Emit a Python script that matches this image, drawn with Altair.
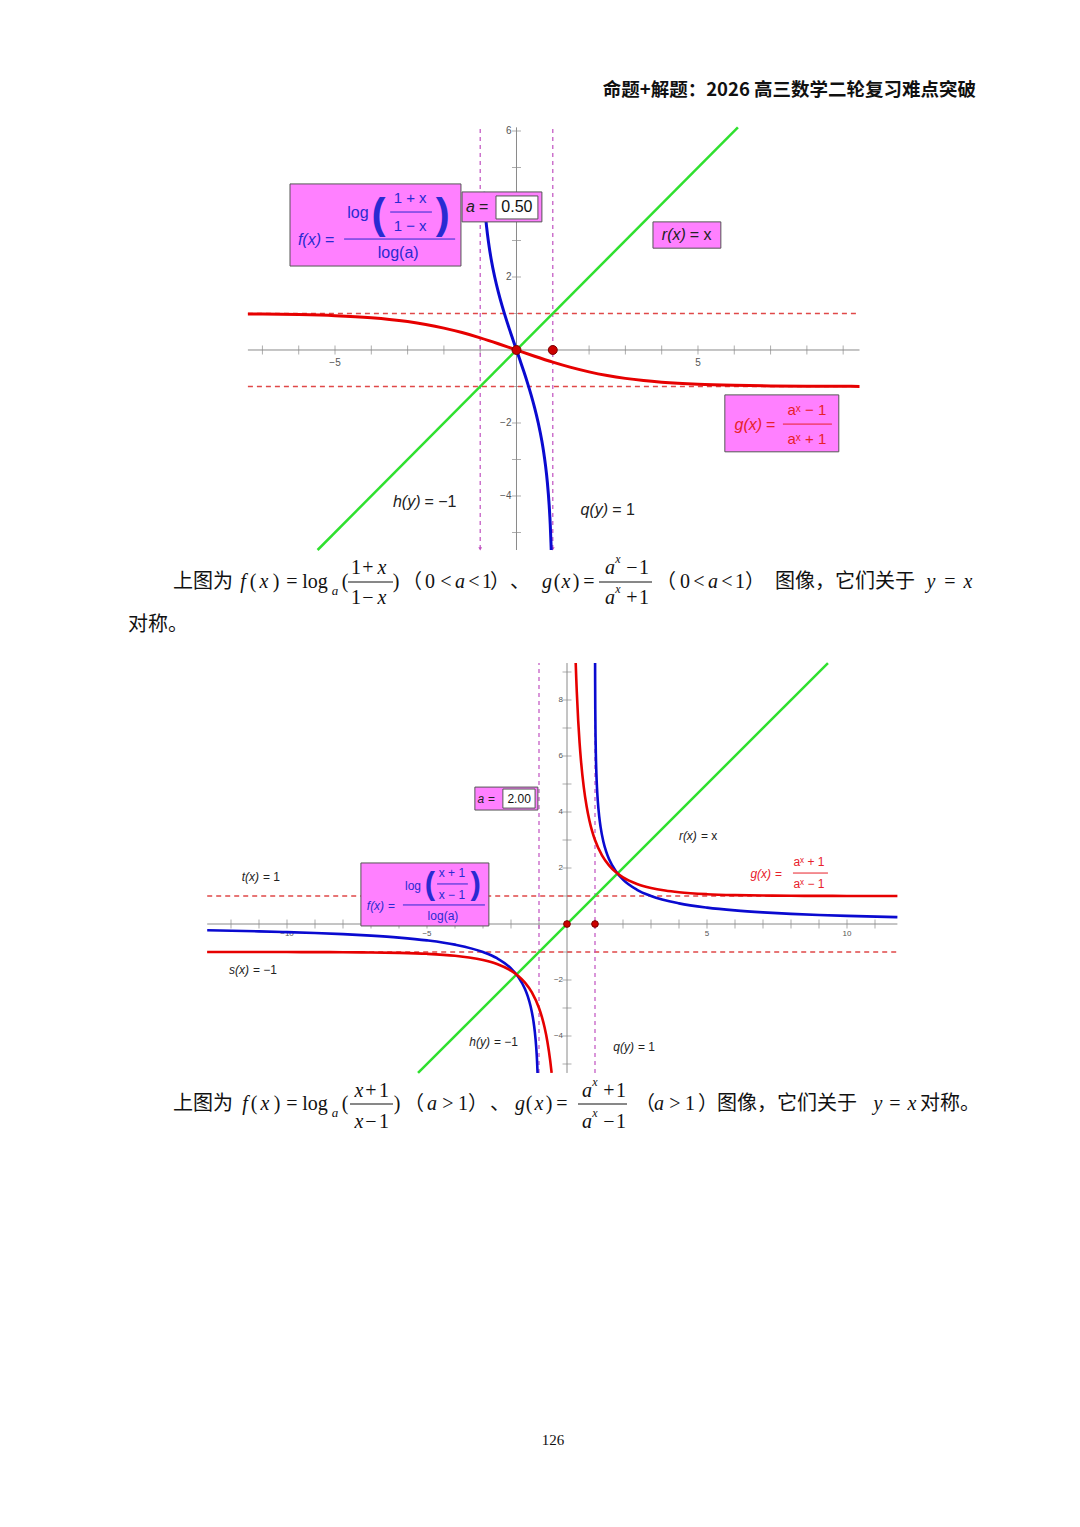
import altair as alt
import pandas as pd

# ---------------- values ----------------
# upper panel (a = 0.50): f(x) = log_a((1+x)/(1-x)) (blue), g(x) = (a^x-1)/(a^x+1) (red)
top_f_x = [-0.905, -0.9, -0.85, -0.8, -0.75, -0.7, -0.6, -0.5, -0.4, -0.3, -0.2, -0.1, 0.0,
           0.1, 0.2, 0.3, 0.4, 0.5, 0.6, 0.7, 0.75, 0.8, 0.85, 0.9, 0.93, 0.95, 0.9565]
top_f_y = [4.33, 4.248, 3.624, 3.170, 2.807, 2.503, 2.000, 1.585, 1.222, 0.893, 0.585, 0.290, 0.0,
           -0.290, -0.585, -0.893, -1.222, -1.585, -2.000, -2.503, -2.807, -3.170, -3.624, -4.248, -4.785, -5.285, -5.48]
top_g_x = [-7.4, -7, -6, -5, -4, -3.5, -3, -2.5, -2, -1.5, -1, -0.5, 0,
           0.5, 1, 1.5, 2, 2.5, 3, 3.5, 4, 5, 6, 7, 8, 9, 9.45]
top_g_y = [0.988, 0.9845, 0.9692, 0.9394, 0.8824, 0.8376, 0.7778, 0.6996, 0.6, 0.4776, 0.3333, 0.1716, 0.0,
           -0.1716, -0.3333, -0.4776, -0.6, -0.6996, -0.7778, -0.8376, -0.8824, -0.9394, -0.9692, -0.9845,
           -0.9922, -0.9961, -0.9972]

# lower panel (a = 2.00): f(x) = log_a((x+1)/(x-1)) (blue), g(x) = (a^x+1)/(a^x-1) (red)
bot_g_x_right = [0.311, 0.33, 0.35, 0.4, 0.45, 0.5, 0.6, 0.7, 0.8, 0.9, 1, 1.25, 1.5, 1.75, 2, 2.5, 3, 3.5, 4,
                 5, 6, 7, 8, 9, 10, 11.8]
bot_g_y_right = [9.32, 8.782, 8.284, 7.260, 6.464, 5.828, 4.878, 4.203, 3.699, 3.309, 3.000, 2.451, 2.094, 1.846,
                 1.667, 1.430, 1.286, 1.194, 1.133, 1.065, 1.032, 1.016, 1.008, 1.004, 1.002, 1.0006]
bot_g_x_left = [-12.85, -11, -10, -9, -8, -7, -6, -5, -4, -3.5, -3, -2.5, -2, -1.75, -1.5, -1.25, -1, -0.9, -0.8,
                -0.7, -0.6, -0.549]
bot_g_y_left = [-1.0001, -1.001, -1.002, -1.004, -1.008, -1.016, -1.032, -1.065, -1.133, -1.194, -1.286, -1.430,
                -1.667, -1.846, -2.094, -2.451, -3.000, -3.309, -3.699, -4.203, -4.878, -5.32]
bot_f_x_right = [1.0031, 1.005, 1.01, 1.02, 1.03, 1.05, 1.07, 1.1, 1.15, 1.2, 1.3, 1.4, 1.5, 1.75, 2, 2.5, 3, 4, 5,
                 6, 7, 8, 9, 10, 11.8]
bot_f_y_right = [9.32, 8.647, 7.651, 6.658, 6.080, 5.358, 4.886, 4.392, 3.841, 3.459, 2.939, 2.585, 2.322, 1.874,
                 1.585, 1.222, 1.000, 0.737, 0.585, 0.485, 0.415, 0.363, 0.322, 0.290, 0.245]
bot_f_x_left = [-12.85, -11, -10, -9, -8, -7, -6, -5, -4, -3, -2.5, -2, -1.75, -1.5, -1.4, -1.3, -1.2, -1.15, -1.1,
                -1.07, -1.0513]
bot_f_y_left = [-0.225, -0.263, -0.290, -0.322, -0.363, -0.415, -0.485, -0.585, -0.737, -1.000, -1.222, -1.585,
                -1.874, -2.322, -2.585, -2.939, -3.459, -3.841, -4.392, -4.886, -5.32]

asymptote_x = [-1, 1]          # h(y) = -1, q(y) = 1
asymptote_y = [-1, 1]          # s(x) = -1, t(x) = 1
marked_x = [0, 1]
marked_y = [0, 0]

top_xticks = [-7, -6, -5, -4, -3, -2, -1, 1, 2, 3, 4, 5, 6, 7, 8, 9]
top_yticks = [-5, -4, -3, -2, -1, 1, 2, 3, 4, 5, 6]
top_xlabels = [-5, 5]
top_ylabels = [6, 2, -2, -4]
bot_xticks = [-12, -11, -10, -9, -8, -7, -6, -5, -4, -3, -2, -1, 1, 2, 3, 4, 5, 6, 7, 8, 9, 10, 11]
bot_yticks = [-5, -4, -3, -2, -1, 1, 2, 3, 4, 5, 6, 7, 8, 9]
bot_xlabels = [-10, -5, 5, 10]
bot_ylabels = [8, 6, 4, 2, -2, -4]

# ---------------- styles ----------------
SANS = "Liberation Sans"
SERIF = "Liberation Serif"
CJK = "Noto Sans CJK SC"
BLUE = "#0a0ad0"
BLUE_T = "#2a2ad2"
RED = "#e60000"
RED_T = "#e8202a"
GREEN = "#2fe02f"
PINK = "#ff80ff"
AXIS = "#8a8a8a"
DARK = "#222222"
OFF = 8  # page margin


def minus(v):
    return str(v).replace("-", "\u2212")


def panel(xdom, xrng, ydom, yrng, f_parts, g_parts, xt, yt, xl, yl, lab_size, lab_dy, lab_dx,
          boxes, bars, txt_reg, labels, parens, pt_size, arrows, curve_w):
    xs = alt.Scale(domain=xdom, range=[r - OFF for r in xrng], nice=False, zero=False)
    ys = alt.Scale(domain=ydom, range=[r - OFF for r in yrng], nice=False, zero=False)

    def X(f):
        return alt.X(f, type="quantitative", scale=xs, axis=None)

    def Y(f):
        return alt.Y(f, type="quantitative", scale=ys, axis=None)

    layers = []
    # axes
    ax = pd.DataFrame({"x": [xdom[0], 0], "x2": [xdom[1], 0], "y": [0, ydom[0]], "y2": [0, ydom[1]]})
    layers.append(alt.Chart(ax).mark_rule(color=AXIS, strokeWidth=1).encode(
        x=X("x"), x2="x2", y=Y("y"), y2="y2"))
    layers.append(alt.Chart(pd.DataFrame({"x": xt, "y": [0] * len(xt)})).mark_tick(
        orient="vertical", size=9, thickness=1, color=AXIS).encode(x=X("x"), y=Y("y")))
    layers.append(alt.Chart(pd.DataFrame({"x": [0] * len(yt), "y": yt})).mark_tick(
        orient="horizontal", size=9, thickness=1, color=AXIS).encode(x=X("x"), y=Y("y")))
    layers.append(alt.Chart(pd.DataFrame({"x": xl, "y": [0] * len(xl), "t": [minus(v) for v in xl]})).mark_text(
        font=SANS, fontSize=lab_size, color="#555", dy=lab_dy).encode(x=X("x"), y=Y("y"), text="t:N"))
    layers.append(alt.Chart(pd.DataFrame({"x": [0] * len(yl), "y": yl, "t": [minus(v) for v in yl]})).mark_text(
        font=SANS, fontSize=lab_size, color="#555", align="right", dx=lab_dx).encode(x=X("x"), y=Y("y"), text="t:N"))
    # asymptotes
    hd = pd.DataFrame({"y": asymptote_y, "x": [xdom[0]] * 2, "x2": [xdom[1]] * 2})
    layers.append(alt.Chart(hd).mark_rule(color="#e04848", strokeWidth=1.3, strokeDash=[5, 4]).encode(
        x=X("x"), x2="x2", y=Y("y")))
    vd = pd.DataFrame({"x": asymptote_x, "y": [arrows[0]] * 2, "y2": [ydom[1]] * 2})
    layers.append(alt.Chart(vd).mark_rule(color="#c050c0", strokeWidth=1.2, strokeDash=[4, 4]).encode(
        x=X("x"), y=Y("y"), y2="y2"))
    if arrows[1]:
        layers.append(alt.Chart(pd.DataFrame({"x": asymptote_x, "y": [arrows[0]] * 2})).mark_point(
            shape="triangle-down", size=14, filled=True, color="#c050c0", opacity=1).encode(x=X("x"), y=Y("y")))
    # y = x
    layers.append(alt.Chart(pd.DataFrame({"x": [ydom[0], ydom[1]], "y": [ydom[0], ydom[1]]})).mark_line(
        color=GREEN, strokeWidth=2.5).encode(x=X("x"), y=Y("y")))
    # curves
    rows = []
    for name, xsv, ysv in f_parts:
        rows += [{"x": a, "y": b, "part": name} for a, b in zip(xsv, ysv)]
    layers.append(alt.Chart(pd.DataFrame(rows)).mark_line(color=BLUE, strokeWidth=curve_w, interpolate="monotone").encode(
        x=X("x"), y=Y("y"), detail="part:N"))
    rows = []
    for name, xsv, ysv in g_parts:
        rows += [{"x": a, "y": b, "part": name} for a, b in zip(xsv, ysv)]
    layers.append(alt.Chart(pd.DataFrame(rows)).mark_line(color=RED, strokeWidth=curve_w, interpolate="monotone").encode(
        x=X("x"), y=Y("y"), detail="part:N"))
    # marked points
    layers.append(alt.Chart(pd.DataFrame({"x": marked_x, "y": marked_y})).mark_point(
        filled=True, size=pt_size, color="#cc0000", stroke="#7a0000", strokeWidth=1, opacity=1).encode(x=X("x"), y=Y("y")))
    # label boxes
    bx = pd.DataFrame(boxes, columns=["x", "x2", "y", "y2", "fill"])
    layers.append(alt.Chart(bx).mark_rect(stroke="#555", strokeWidth=1).encode(
        x=X("x"), x2="x2", y=Y("y"), y2="y2", fill=alt.Fill("fill:N", scale=None)))
    br = pd.DataFrame(bars, columns=["x", "x2", "y", "c"])
    layers.append(alt.Chart(br).mark_rule(strokeWidth=1).encode(
        x=X("x"), x2="x2", y=Y("y"), color=alt.Color("c:N", scale=None)))

    def tl(rows_, style, weight, align="center", dx=0):
        d = pd.DataFrame(rows_, columns=["t", "x", "y", "s", "c"])
        return alt.Chart(d).mark_text(font=SANS, fontStyle=style, fontWeight=weight, baseline="middle",
                                      align=align, dx=dx).encode(
            x=X("x"), y=Y("y"), text="t:N", size=alt.Size("s:Q", scale=None, legend=None),
            color=alt.Color("c:N", scale=None))

    layers.append(tl(txt_reg, "normal", "normal"))
    layers.append(tl([(n, x, y, s, c) for n, r, x, y, s, c in labels], "italic", "normal", "right", -2))
    layers.append(tl([(r, x, y, s, c) for n, r, x, y, s, c in labels], "normal", "normal", "left", 2))
    layers.append(tl(parens, "normal", "bold"))
    return alt.layer(*layers)


top = panel(
    [-7.4, 9.45], [247.9, 859.5], [-5.48, 6.1], [550.0, 127.35],
    [("f", top_f_x, top_f_y)], [("g", top_g_x, top_g_y)],
    top_xticks, top_yticks, top_xlabels, top_ylabels, 10, 13, -5,
    boxes=[(-6.24, -1.53, 2.30, 4.55, PINK), (-1.50, 0.70, 3.51, 4.33, PINK), (-0.565, 0.59, 3.59, 4.22, "#ffffff"),
           (3.76, 5.63, 2.79, 3.51, PINK), (5.74, 8.88, -2.79, -1.23, PINK)],
    bars=[(-3.48, -2.33, 3.78, BLUE_T), (-4.75, -1.69, 3.04, BLUE_T), (7.34, 8.69, -2.03, RED_T)],
    txt_reg=[("log", -4.37, 3.75, 16, BLUE_T), ("1 + x", -2.93, 4.16, 15, BLUE_T), ("1 \u2212 x", -2.93, 3.40, 15, BLUE_T),
             ("log(a)", -3.26, 2.66, 16, BLUE_T), ("0.50", 0.01, 3.92, 16, "#111"),
             ("a\u02e3 \u2212 1", 8.00, -1.64, 15, RED_T), ("a\u02e3 + 1", 8.00, -2.44, 15, RED_T)],
    labels=[("f(x)", "=", -5.33, 3.01, 16, BLUE_T), ("a", "=", -1.09, 3.92, 16, DARK),
            ("r(x)", "= x", 4.72, 3.15, 16, DARK), ("g(x)", "=", 6.82, -2.05, 16, RED_T),
            ("h(y)", "= \u22121", -2.59, -4.16, 16, DARK), ("q(y)", "= 1", 2.58, -4.38, 16, DARK)],
    parens=[("(", -3.80, 3.70, 42, BLUE_T), (")", -2.03, 3.70, 42, BLUE_T)],
    pt_size=80, arrows=(-5.45, True), curve_w=3)

bottom = panel(
    [-12.85, 11.8], [207.2, 897.4], [-5.32, 9.32], [1072.96, 663.04],
    [("fl", bot_f_x_left, bot_f_y_left), ("fr", bot_f_x_right, bot_f_y_right)],
    [("gl", bot_g_x_left, bot_g_y_left), ("gr", bot_g_x_right, bot_g_y_right)],
    bot_xticks, bot_yticks, bot_xlabels, bot_ylabels, 8, 10, -4,
    boxes=[(-3.29, -1.04, 4.07, 4.89, PINK), (-2.29, -1.14, 4.14, 4.82, "#ffffff"),
           (-7.36, -2.79, -0.07, 2.18, PINK)],
    bars=[(-4.64, -3.54, 1.43, BLUE_T), (-5.86, -2.93, 0.68, BLUE_T), (8.07, 9.32, 1.82, RED_T)],
    txt_reg=[("log", -5.50, 1.36, 12, BLUE_T), ("x + 1", -4.11, 1.82, 12, BLUE_T), ("x \u2212 1", -4.11, 1.04, 12, BLUE_T),
             ("log(a)", -4.43, 0.29, 12, BLUE_T), ("2.00", -1.71, 4.46, 12, "#111"),
             ("a\u02e3 + 1", 8.64, 2.21, 12, RED_T), ("a\u02e3 \u2212 1", 8.64, 1.43, 12, RED_T)],
    labels=[("f(x)", "=", -6.46, 0.64, 12, BLUE_T), ("a", "=", -2.89, 4.46, 12, DARK),
            ("t(x)", "= 1", -10.93, 1.68, 12, DARK), ("r(x)", "= x", 4.71, 3.14, 12, DARK),
            ("g(x)", "=", 7.36, 1.79, 12, RED_T), ("s(x)", "= \u22121", -11.29, -1.64, 12, DARK),
            ("h(y)", "= \u22121", -2.68, -4.21, 12, DARK), ("q(y)", "= 1", 2.46, -4.39, 12, DARK)],
    parens=[("(", -4.90, 1.40, 31, BLUE_T), (")", -3.26, 1.40, 31, BLUE_T)],
    pt_size=45, arrows=(-5.32, False), curve_w=2.6)

# ---------------- page text ----------------
cap_cjk = [("上图为", 203, 582, 20, "center"), ("（", 412, 582, 20, "center"), ("）", 500, 582, 20, "center"),
           ("、", 520, 582, 20, "center"), ("（", 666, 582, 20, "center"), ("）", 755, 582, 20, "center"),
           ("图像，它们关于", 775, 582, 20, "left"), ("对称。", 128, 625, 20, "left"),
           ("上图为", 203, 1104, 20, "center"), ("（", 414, 1104, 20, "center"), ("）", 478, 1104, 20, "center"),
           ("、", 500, 1104, 20, "center"), ("（", 645, 1104, 20, "center"), ("）", 708, 1104, 20, "center"),
           ("图像，它们关于", 717, 1104, 20, "left"), ("对称。", 920, 1104, 20, "left")]
cap_serif = [("(", 253, 582, 20), (")", 276, 582, 20), ("=", 292, 582, 20), ("log", 315, 582, 20), ("(", 345, 582, 20),
             ("1", 356, 568, 20), ("+", 368, 568, 20), ("1", 356, 598, 20), ("\u2212", 368, 598, 20), (")", 396, 582, 20),
             ("0", 430, 582, 20), ("<", 446, 582, 20), ("<", 474, 582, 20), ("1", 487, 582, 20),
             ("(", 557, 582, 20), (")", 576, 582, 20), ("=", 589, 582, 20),
             ("\u2212", 632, 568, 20), ("1", 644, 568, 20), ("+", 632, 598, 20), ("1", 644, 598, 20),
             ("0", 685, 582, 20), ("<", 699, 582, 20), ("<", 727, 582, 20), ("1", 740, 582, 20), ("=", 950, 582, 20),
             ("(", 254, 1104, 20), (")", 277, 1104, 20), ("=", 292, 1104, 20), ("log", 315, 1104, 20), ("(", 345, 1104, 20),
             ("+", 371, 1091, 20), ("1", 384, 1091, 20), ("\u2212", 371, 1122, 20), ("1", 384, 1122, 20),
             (")", 397, 1104, 20), (">", 448, 1104, 20), ("1", 463, 1104, 20),
             ("(", 529, 1104, 20), (")", 549, 1104, 20), ("=", 562, 1104, 20),
             ("+", 609, 1091, 20), ("1", 621, 1091, 20), ("\u2212", 609, 1122, 20), ("1", 621, 1122, 20),
             (">", 675, 1104, 20), ("1", 690, 1104, 20), ("=", 895, 1104, 20),
             ("126", 553, 1440, 15)]
cap_italic = [("f", 243, 582, 20), ("x", 264, 582, 20), ("a", 335, 591, 13), ("x", 382, 568, 20), ("x", 382, 598, 20),
              ("a", 460, 582, 20), ("g", 547, 582, 20), ("x", 566, 582, 20),
              ("a", 610, 568, 20), ("x", 618, 559, 12), ("a", 610, 598, 20), ("x", 618, 589, 12),
              ("a", 713, 582, 20), ("y", 931, 582, 20), ("x", 968, 582, 20),
              ("f", 245, 1104, 20), ("x", 265, 1104, 20), ("a", 335, 1113, 13), ("x", 359, 1091, 20), ("x", 359, 1122, 20),
              ("a", 432, 1104, 20), ("g", 520, 1104, 20), ("x", 539, 1104, 20),
              ("a", 587, 1091, 20), ("x", 595, 1082, 12), ("a", 587, 1122, 20), ("x", 595, 1113, 12),
              ("a", 659, 1104, 20), ("y", 878, 1104, 20), ("x", 912, 1104, 20)]
cap_bars = [(348, 393, 582), (599, 652, 582), (350, 393, 1104), (578, 627, 1104)]
header = [("命题+解题：2026 高三数学二轮复习难点突破", 976, 90, 18.5)]


def page_text(rows, font, style="normal", weight="normal", align=None):
    cols = ["t", "px", "py", "s"] + (["a"] if align is None else [])
    d = pd.DataFrame(rows, columns=cols)
    d["px"] = d["px"] - OFF
    d["py"] = d["py"] - OFF
    layers_ = []
    aligns = d["a"].unique() if align is None else [align]
    for al in aligns:
        dd = d[d["a"] == al] if align is None else d
        layers_.append(alt.Chart(dd).mark_text(font=font, fontStyle=style, fontWeight=weight, align=al,
                                               baseline="middle", color="#111").encode(
            x=alt.X("px:Q", scale=None, axis=None), y=alt.Y("py:Q", scale=None, axis=None),
            text="t:N", size=alt.Size("s:Q", scale=None, legend=None)))
    return layers_


bars_df = pd.DataFrame(cap_bars, columns=["px", "px2", "py"])
bars_df[["px", "px2", "py"]] = bars_df[["px", "px2", "py"]] - OFF
page_layers = []
page_layers += page_text(cap_cjk, CJK)
page_layers += page_text(cap_serif, SERIF, align="center")
page_layers += page_text(cap_italic, SERIF, style="italic", align="center")
page_layers += page_text(header, CJK, weight="bold", align="right")
page_layers.append(alt.Chart(bars_df).mark_rule(color="#111", strokeWidth=1).encode(
    x=alt.X("px:Q", scale=None, axis=None), x2="px2", y=alt.Y("py:Q", scale=None, axis=None)))
page = alt.layer(*page_layers)

chart = alt.layer(top, bottom, page).resolve_scale(x="independent", y="independent").properties(
    width=1064, height=1511, padding=0, autosize="none", background="#ffffff"
).configure_view(stroke=None)

chart.save("out.html", embed_options={"renderer": "svg", "actions": False})
